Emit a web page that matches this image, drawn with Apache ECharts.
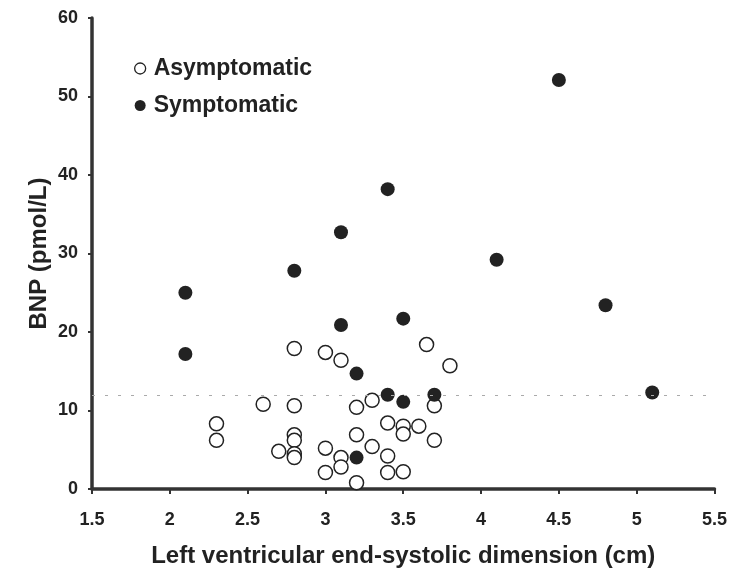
<!DOCTYPE html>
<html>
<head>
<meta charset="utf-8">
<script src="https://cdn.jsdelivr.net/npm/echarts@6/dist/echarts.min.js"></script>
<style>html,body{margin:0;padding:0;background:#fff}#c{width:730px;height:577px}</style>
</head>
<body>
<div id="c"></div>
<script>
var seriesNames = ['Asymptomatic', 'Symptomatic'];
var asymptomaticX = [2.8, 3.0, 3.1, 3.65, 3.8, 2.6, 2.8, 3.2, 3.3, 3.7, 2.3, 2.3, 2.8, 2.8, 2.8, 2.8, 2.7, 3.2, 3.0, 3.1, 3.1, 3.0, 3.2, 3.3, 3.4, 3.4, 3.4, 3.5, 3.5, 3.5, 3.6, 3.7];
var asymptomaticY = [17.9, 17.4, 16.4, 18.4, 15.7, 10.8, 10.6, 10.4, 11.3, 10.6, 8.3, 6.2, 6.9, 6.2, 4.5, 4.0, 4.8, 6.9, 5.2, 4.0, 2.8, 2.1, 0.8, 5.4, 8.4, 4.2, 2.1, 8.0, 7.0, 2.2, 8.0, 6.2];
var symptomaticX = [2.1, 2.1, 2.8, 3.1, 3.1, 3.2, 3.2, 3.4, 3.4, 3.5, 3.5, 3.7, 4.1, 4.5, 4.8, 5.1];
var symptomaticY = [25.0, 17.2, 27.8, 32.7, 20.9, 14.7, 4.0, 38.2, 12.0, 21.7, 11.1, 12.0, 29.2, 52.1, 23.4, 12.3];
var cutoffY = 12;
var xTitle = 'Left ventricular end-systolic dimension (cm)';
var yTitle = 'BNP (pmol/L)';

function pairs(xs, ys) { return xs.map(function (x, i) { return [x, ys[i]]; }); }

var font = 'Liberation Sans, Arial, sans-serif';
var chart = echarts.init(document.getElementById('c'));
chart.setOption({
  animation: false,
  backgroundColor: '#fff',
  grid: { left: 92, right: 14, top: 18, bottom: 88 },
  legend: {
    orient: 'vertical', left: 129, top: 52, itemGap: 14,
    itemWidth: 11, itemHeight: 11,
    textStyle: { fontFamily: font, fontWeight: 'bold', fontSize: 23, color: '#222', padding: [0, 0, 0, 3] },
    data: [
      { name: seriesNames[0], icon: 'circle', itemStyle: { color: '#fff', borderColor: '#222', borderWidth: 1.3 } },
      { name: seriesNames[1], icon: 'circle', itemStyle: { color: '#222', borderWidth: 0 } }
    ]
  },
  xAxis: {
    type: 'value', min: 1.5, max: 5.5, interval: 0.5,
    name: xTitle, nameLocation: 'middle', nameGap: 55, nameMoveOverlap: false,
    nameTextStyle: { fontFamily: font, fontWeight: 'bold', fontSize: 24, color: '#222' },
    axisLine: { lineStyle: { color: '#333', width: 3.5 } },
    axisTick: { length: 5, lineStyle: { color: '#333', width: 2 } },
    axisLabel: { fontFamily: font, fontWeight: 'bold', fontSize: 18, color: '#222', margin: 22,
      formatter: function (v) { return String(v); } },
    splitLine: { show: false }
  },
  yAxis: {
    type: 'value', min: 0, max: 60, interval: 10,
    name: yTitle, nameLocation: 'middle', nameGap: 41, nameRotate: 90, nameMoveOverlap: false,
    nameTextStyle: { fontFamily: font, fontWeight: 'bold', fontSize: 24, color: '#222' },
    axisLine: { show: true, lineStyle: { color: '#333', width: 3.5 } },
    axisTick: { show: true, length: 4, lineStyle: { color: '#333', width: 2 } },
    axisLabel: { fontFamily: font, fontWeight: 'bold', fontSize: 18, color: '#222', margin: 14 },
    splitLine: { show: false }
  },
  series: [
    {
      name: seriesNames[0], type: 'scatter', symbol: 'circle', symbolSize: 14,
      itemStyle: { color: '#fff', borderColor: '#222', borderWidth: 1.5, opacity: 1 },
      data: pairs(asymptomaticX, asymptomaticY), z: 3
    },
    {
      name: seriesNames[1], type: 'scatter', symbol: 'circle', symbolSize: 14,
      itemStyle: { color: '#222', opacity: 1 },
      data: pairs(symptomaticX, symptomaticY), z: 4,
      markLine: {
        silent: true, symbol: 'none', label: { show: false },
        lineStyle: { color: '#aaa', width: 1, type: [3, 10] },
        data: [{ yAxis: cutoffY }]
      }
    }
  ]
});
</script>
</body>
</html>
